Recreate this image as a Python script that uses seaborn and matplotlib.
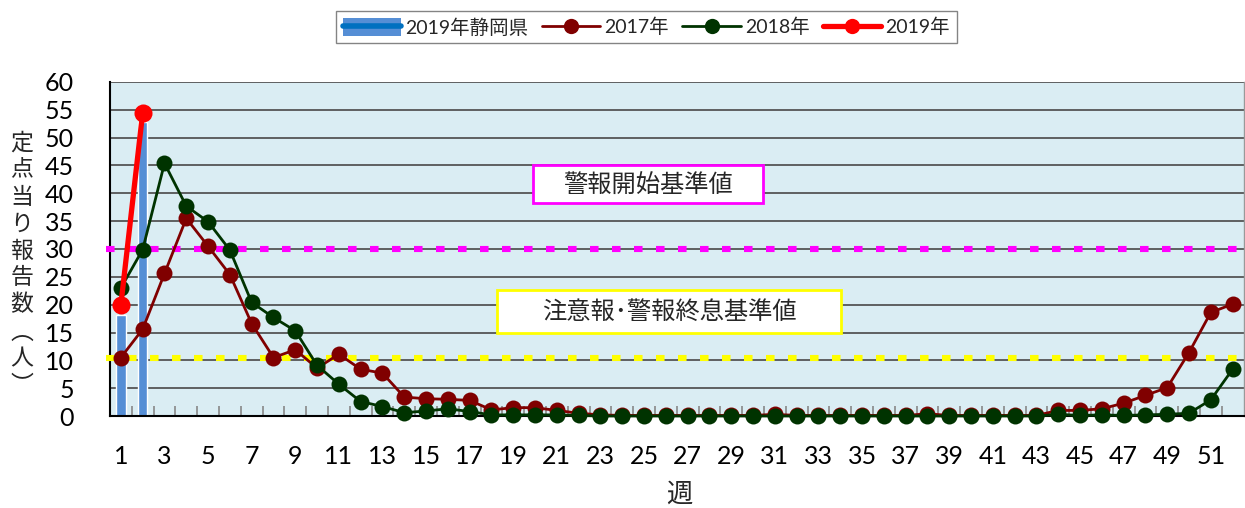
import numpy as np
import pandas as pd
import matplotlib
matplotlib.use("Agg")
import matplotlib.pyplot as plt
import seaborn as sns
from matplotlib.patches import Patch, Rectangle
from matplotlib.lines import Line2D
from matplotlib.ticker import FixedLocator

# ---------------- data ----------------
weeks = list(range(1, 53))
y2017 = [10.5, 15.6, 25.6, 35.5, 30.5, 25.4, 16.6, 10.5, 11.9, 8.6, 11.1, 8.4, 7.7, 3.4,
         3.1, 3.0, 2.8, 1.1, 1.5, 1.5, 1.0, 0.5,
         0.2, 0.1, 0.1, 0.1, 0.1, 0.1, 0.1, 0.1, 0.3, 0.1, 0.1, 0.1, 0.1, 0.1, 0.1, 0.4,
         0.1, 0.1, 0.1, 0.1, 0.1,
         1.0, 1.0, 1.3, 2.3, 3.7, 5.1, 11.4, 18.6, 20.1]
y2018 = [23.0, 29.9, 45.4, 37.7, 34.9, 29.8, 20.4, 17.7, 15.3, 9.1, 5.7, 2.6, 1.7, 0.6,
         0.9, 1.3, 0.8, 0.2, 0.2, 0.2, 0.2, 0.1,
         0.0, 0.0, 0.0, 0.0, 0.0, 0.0, 0.0, 0.0, 0.0, 0.0, 0.0, 0.0, 0.0, 0.0, 0.0, 0.0,
         0.0, 0.0, 0.0, 0.0, 0.0,
         0.3, 0.1, 0.2, 0.1, 0.2, 0.3, 0.5, 2.9, 8.4]
weeks2019 = [1, 2]
shizuoka2019 = [18.2, 52.8]
y2019 = [20.0, 54.5]
warn_start = 30.0
warn_end = 10.5
xtick_labels = [str(w) for w in range(1, 53, 2)]
yticks = list(range(0, 61, 5))
legend_labels = ["2019年静岡県", "2017年", "2018年", "2019年"]
ylabel_chars = ["定", "点", "当", "り", "報", "告", "数", "︵", "人", "︶"]
box_texts = ["警報開始基準値", "注意報･警報終息基準値"]

# ---------------- style ----------------
sns.set_theme(style="white")
plt.rcParams['font.family'] = ['Lato', 'Noto Sans CJK JP', 'DejaVu Sans']
CJK = ['Noto Sans CJK JP', 'DejaVu Sans']

W, H = 1245, 508
fig = plt.figure(figsize=(W / 100, H / 100), dpi=100)
ax = fig.add_axes([110 / W, 1 - 416 / H, (1243.5 - 110) / W, (416 - 82) / H])
ax.set_facecolor("#DAEDF3")

df_bar = pd.DataFrame({"week": weeks2019, "value": shizuoka2019})
sns.barplot(data=df_bar, x="week", y="value", native_scale=True, width=0.43,
            color="#558ED5", saturation=1, ax=ax, zorder=2)

df17 = pd.DataFrame({"week": weeks, "value": y2017})
df18 = pd.DataFrame({"week": weeks, "value": y2018})
df19 = pd.DataFrame({"week": weeks2019, "value": y2019})

sns.lineplot(data=df17, x="week", y="value", color="#800000", lw=2.0, marker="o",
             markersize=11.5, markeredgewidth=0, ax=ax, zorder=4, clip_on=False)
sns.lineplot(data=df18, x="week", y="value", color="#003300", lw=2.0, marker="o",
             markersize=11.5, markeredgewidth=0, ax=ax, zorder=5, clip_on=False)
sns.lineplot(data=df19, x="week", y="value", color="#FF0000", lw=3.8, marker="o",
             markersize=13, markeredgewidth=0, ax=ax, zorder=6, clip_on=False)

# reference lines (dotted squares)
for val, col in [(warn_start, "#FF00FF"), (warn_end, "#FFFF00")]:
    ax.plot([0.3, 52.55], [val, val], color=col, lw=4.4, ls=(0, (1.4, 2.2)),
            solid_capstyle="butt", dash_capstyle="butt", zorder=3, clip_on=False)

ax.set_xlim(0.5, 52.5)
ax.set_ylim(0, 60)
ax.set_yticks(yticks)
ax.set_xticks(list(range(1, 53, 2)))
ax.set_xticklabels(xtick_labels)
ax.xaxis.set_minor_locator(FixedLocator([w + 0.5 for w in range(1, 52)]))
ax.tick_params(axis="x", which="major", length=0, pad=21, labelsize=18, colors="black")
ax.tick_params(axis="x", which="minor", length=7, direction="in", color="#888888",
               width=1.2, bottom=True)
ax.tick_params(axis="y", which="major", length=0, pad=26, labelsize=18, colors="black")

ax.yaxis.grid(True, color="#555555", lw=1.3, zorder=1)
ax.xaxis.grid(False)
ax.set_axisbelow(True)
ax.spines["top"].set_visible(False)
ax.spines["right"].set_color("#999999")
ax.spines["right"].set_linewidth(1)
for s in ["left", "bottom"]:
    ax.spines[s].set_color("black")
    ax.spines[s].set_linewidth(1.5)
ax.set_xlabel("")
ax.set_ylabel("")

# annotation boxes (pixel-placed)
boxes = [((533, 165, 763, 203), "#FF00FF", (648, 185)),
         ((497, 290, 841, 333), "#FFFF00", (669, 312))]
for txt, ((x0, y0, x1, y1), ec, (tx, ty)) in zip(box_texts, boxes):
    fig.add_artist(Rectangle((x0 / W, 1 - y1 / H), (x1 - x0) / W, (y1 - y0) / H,
                             transform=fig.transFigure, fc="white", ec=ec, lw=2,
                             zorder=5))
    fig.text(tx / W, 1 - ty / H, txt, ha="center", va="center", fontsize=17.5,
             family=CJK, zorder=6)

# x label
fig.text(679 / W, 1 - 494 / H, "週", ha="center", va="center", fontsize=19, family=CJK)

# y label, stacked vertically
y0, y1 = 143, 386
for i, ch in enumerate(ylabel_chars):
    yy = y0 + (y1 - y0) * i / (len(ylabel_chars) - 1)
    fig.text(22 / W, 1 - yy / H, ch, ha="center", va="center", fontsize=16.5, family=CJK)

# legend
h_bar = (Patch(facecolor="#558ED5", edgecolor="none"),
         Line2D([], [], color="#0070C0", lw=4))
h17 = Line2D([], [], color="#800000", lw=2, marker="o", markersize=11, markeredgewidth=0)
h18 = Line2D([], [], color="#003300", lw=2, marker="o", markersize=11, markeredgewidth=0)
h19 = Line2D([], [], color="#FF0000", lw=3.8, marker="o", markersize=11, markeredgewidth=0)
leg = fig.legend([h_bar, h17, h18, h19], legend_labels, loc="center",
                 bbox_to_anchor=(646.5 / W, 1 - 27 / H), ncol=4, frameon=True,
                 fancybox=False, edgecolor="#666666", fontsize=14, handlelength=3.0,
                 handleheight=1.1, handletextpad=0.2, columnspacing=0.7, borderpad=0.35)
leg.get_frame().set_linewidth(1)

fig.savefig("out.png", dpi=100)
